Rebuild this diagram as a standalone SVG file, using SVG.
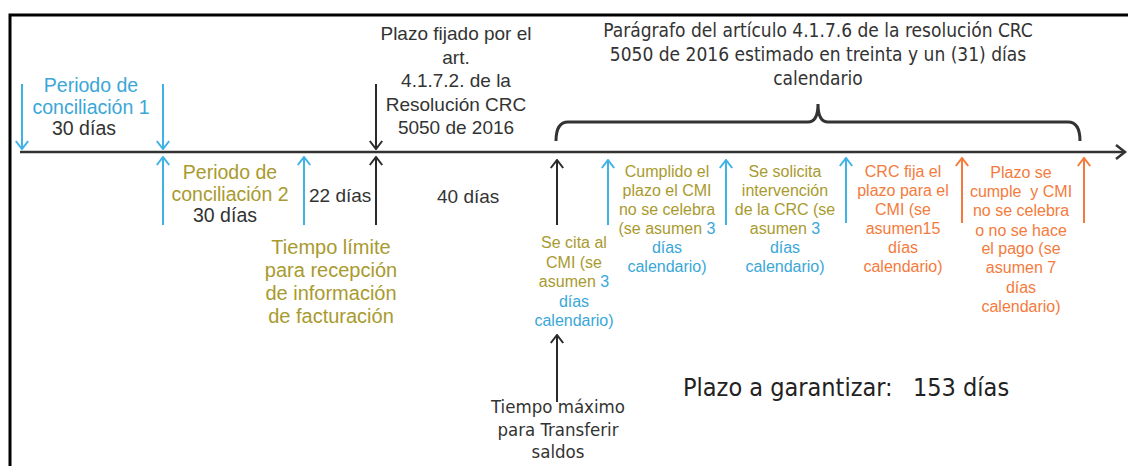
<svg xmlns="http://www.w3.org/2000/svg" width="1128" height="466" viewBox="0 0 1128 466">
<style>
.a{font-family:"Liberation Sans",Arial,sans-serif}
.c{font-family:"DejaVu Sans Condensed","DejaVu Sans",sans-serif;font-stretch:condensed}
.blue{fill:#3AA7D8}.gold{fill:#A99A2E}.orange{fill:#F47B3C}.dark{fill:#333}
.s19{font-size:19px}.s16{font-size:16px}
.ab{stroke:#3FB3E6;stroke-width:2;fill:none;marker-end:url(#mb)}
.ak{stroke:#2a2a2a;stroke-width:2;fill:none;marker-end:url(#mk)}
.ao{stroke:#F47B3C;stroke-width:2;fill:none;marker-end:url(#mo)}
</style>
<defs>
<marker id="mb" viewBox="0 0 10 14" refX="9" refY="7" markerWidth="10" markerHeight="14" markerUnits="userSpaceOnUse" orient="auto"><path d="M1,0.8 L9,7 L1,13.2" fill="none" stroke="#3FB3E6" stroke-width="2"/></marker>
<marker id="mk" viewBox="0 0 10 14" refX="9" refY="7" markerWidth="10" markerHeight="14" markerUnits="userSpaceOnUse" orient="auto"><path d="M1,0.8 L9,7 L1,13.2" fill="none" stroke="#2a2a2a" stroke-width="2"/></marker>
<marker id="mo" viewBox="0 0 10 14" refX="9" refY="7" markerWidth="10" markerHeight="14" markerUnits="userSpaceOnUse" orient="auto"><path d="M1,0.8 L9,7 L1,13.2" fill="none" stroke="#F47B3C" stroke-width="2"/></marker>
</defs>
<rect width="1128" height="466" fill="#fff"/>
<g id="frame" stroke="#000" stroke-width="3" fill="none">
<path d="M10,466 V15 H1128"/>
</g>
<g id="connectors">
<path d="M20,152 H1124" stroke="#333" stroke-width="2.5" fill="none"/>
<path d="M1116,145 L1125,152 L1116,159" stroke="#333" stroke-width="2.5" fill="none"/>
<path d="M556,141 Q556,122 568,122 H808 Q818,122 818,104 Q818,122 828,122 H1068 Q1080,122 1080,141" stroke="#333" stroke-width="3" fill="none"/>
<line class="ab" x1="22" y1="84" x2="22" y2="149"/>
<line class="ab" x1="163" y1="84" x2="163" y2="149"/>
<line class="ak" x1="376" y1="84" x2="376" y2="149"/>
<line class="ab" x1="163" y1="225" x2="163" y2="157"/>
<line class="ab" x1="304" y1="225" x2="304" y2="157"/>
<line class="ak" x1="376" y1="225" x2="376" y2="157"/>
<line class="ak" x1="557" y1="225" x2="557" y2="160"/>
<line class="ab" x1="608" y1="225" x2="608" y2="160"/>
<line class="ab" x1="726" y1="225" x2="726" y2="160"/>
<line class="ab" x1="846" y1="223" x2="846" y2="158"/>
<line class="ao" x1="962" y1="223" x2="962" y2="158"/>
<line class="ao" x1="1084" y1="223" x2="1084" y2="158"/>
<line class="ak" x1="557" y1="402" x2="557" y2="335"/>
</g>
<g id="periodo1" class="a" font-size="19.5" text-anchor="middle">
<text x="91" y="92" class="blue">Periodo de</text>
<text x="91" y="114" class="blue">conciliación 1</text>
<text x="84" y="135" class="dark">30 días</text>
</g>
<g id="periodo2" class="a" font-size="19.5" text-anchor="middle">
<text x="230" y="179" class="gold">Periodo de</text>
<text x="230" y="201" class="gold">conciliación 2</text>
<text x="225" y="222" class="dark">30 días</text>
</g>
<g id="dias22" class="a s19">
<text x="309" y="202" class="dark">22 días</text>
</g>
<g id="tiempo-limite" class="a" font-size="20" text-anchor="middle">
<text x="331" y="254" class="gold">Tiempo límite</text>
<text x="331" y="277" class="gold">para recepción</text>
<text x="331" y="300" class="gold">de información</text>
<text x="331" y="323" class="gold">de facturación</text>
</g>
<g id="plazo-fijado" class="a s19" text-anchor="middle">
<text x="456" y="40" class="dark">Plazo fijado por el</text>
<text x="456" y="64" class="dark">art.</text>
<text x="456" y="87" class="dark">4.1.7.2. de la</text>
<text x="456" y="111" class="dark">Resolución CRC</text>
<text x="456" y="134" class="dark">5050 de 2016</text>
</g>
<g id="dias40" class="a s19">
<text x="437" y="203" class="dark">40 días</text>
</g>
<g id="paragrafo" class="c s19" text-anchor="middle">
<text x="818" y="37" class="dark">Parágrafo del artículo 4.1.7.6 de la resolución CRC</text>
<text x="818" y="61" class="dark">5050 de 2016 estimado en treinta y un (31) días</text>
<text x="818" y="85" class="dark">calendario</text>
</g>
<g id="se-cita" class="a s16" text-anchor="middle">
<text x="574" y="248" class="gold">Se cita al</text>
<text x="574" y="268" class="gold">CMI (se</text>
<text x="574" y="287" class="gold">asumen <tspan class="blue">3</tspan></text>
<text x="574" y="307" class="blue">días</text>
<text x="574" y="326" class="blue">calendario)</text>
</g>
<g id="cumplido" class="a s16" text-anchor="middle">
<text x="667" y="177" class="gold">Cumplido el</text>
<text x="667" y="196" class="gold">plazo el CMI</text>
<text x="667" y="215" class="gold">no se celebra</text>
<text x="667" y="234" class="gold">(se asumen <tspan class="blue">3</tspan></text>
<text x="667" y="253" class="blue">días</text>
<text x="667" y="272" class="blue">calendario)</text>
</g>
<g id="solicita" class="a s16" text-anchor="middle">
<text x="785" y="177" class="gold">Se solicita</text>
<text x="785" y="196" class="gold">intervención</text>
<text x="785" y="215" class="gold">de la CRC (se</text>
<text x="785" y="234" class="gold">asumen <tspan class="blue">3</tspan></text>
<text x="785" y="253" class="blue">días</text>
<text x="785" y="272" class="blue">calendario)</text>
</g>
<g id="crc-fija" class="a s16 orange" text-anchor="middle">
<text x="903" y="177">CRC fija el</text>
<text x="903" y="196">plazo para el</text>
<text x="903" y="215">CMI (se</text>
<text x="903" y="234">asumen15</text>
<text x="903" y="253">días</text>
<text x="903" y="272">calendario)</text>
</g>
<g id="plazo-cumple" class="a s16 orange" text-anchor="middle">
<text x="1021" y="178">Plazo se</text>
<text x="1021" y="197" xml:space="preserve">cumple  y CMI</text>
<text x="1021" y="216">no se celebra</text>
<text x="1021" y="236">o no se hace</text>
<text x="1021" y="254">el pago (se</text>
<text x="1021" y="273">asumen 7</text>
<text x="1021" y="293">días</text>
<text x="1021" y="312">calendario)</text>
</g>
<g id="tiempo-maximo" class="c" font-size="18.5" text-anchor="middle">
<text x="558" y="413" class="dark">Tiempo máximo</text>
<text x="558" y="436" class="dark">para Transferir</text>
<text x="558" y="458" class="dark">saldos</text>
</g>
<g id="plazo-garantizar" class="c" font-size="25">
<text x="683" y="396" fill="#222">Plazo a garantizar:</text>
<text x="913" y="396" fill="#222">153 días</text>
</g>
</svg>
